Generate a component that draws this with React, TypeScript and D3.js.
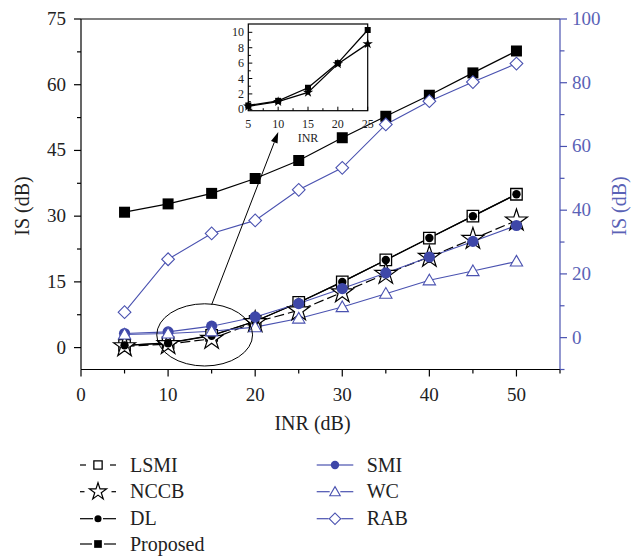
import React from 'react';
import * as d3 from 'd3';

// ---------- data ----------
const inr = [5, 10, 15, 20, 25, 30, 35, 40, 45, 50];
const lsmi = [0.5, 1.1, 2.8, 6.0, 10.3, 15.0, 20.0, 25.0, 30.0, 35.0];
const nccb = [0.3, 0.8, 2.0, 5.8, 8.5, 12.6, 16.8, 20.7, 24.8, 29.0];
const dl = [0.5, 1.0, 2.7, 6.0, 10.3, 15.0, 20.0, 25.0, 30.0, 35.0];
const proposed = [30.9, 32.8, 35.2, 38.6, 42.7, 47.9, 52.8, 57.6, 62.7, 67.7];
const smi = [1.3, 1.8, 3.6, 6.5, 10.7, 15.4, 20.3, 25.3, 30.2, 35.2];
const wc = [1.0, 1.3, 2.0, 3.3, 6.0, 9.6, 13.8, 18.0, 20.9, 23.9];
const rab = [8.0, 24.6, 32.7, 36.8, 46.4, 53.3, 66.9, 74.2, 80.2, 86.0];

const insetInr = [5, 10, 15, 20, 25];
const insetSquare = [0.5, 1.1, 2.8, 6.0, 10.3];
const insetStar = [0.4, 1.0, 2.2, 5.9, 8.5];

const xTicks = [0, 10, 20, 30, 40, 50];
const xMinor = [5, 15, 25, 35, 45, 55];
const leftTicks = [0, 15, 30, 45, 60, 75];
const leftMinor = [7.5, 22.5, 37.5, 52.5, 67.5];
const rightTicks = [0, 20, 40, 60, 80, 100];
const rightMinor = [-10, 10, 30, 50, 70, 90];
const insetXTicks = [5, 10, 15, 20, 25];
const insetXMinor = [7.5, 12.5, 17.5, 22.5];
const insetYTicks = [0, 2, 4, 6, 8, 10];
const insetYMinor = [1, 3, 5, 7, 9];

// annotation (data coords): ellipse around 5..20 region and arrow to inset
const ellipse = { cx: 14.2, cy: 2.9, rx: 5.5, ry: 7.1 };
const arrow = { x1: 15.0, y1: 9.8, x2: 22.65, y2: 49.2 };

const FONT = '"Liberation Serif", "DejaVu Serif", serif';
const BLUE = '#4a52b0';
const BLUE_FILL = '#3e47a8';
const BLUE_TEXT = '#5a62b6';

const W = 639, H = 556;
const L = 81, R = 560, T = 19, B = 369.5;

const x = d3.scaleLinear().domain([0, 55]).range([L, R]);
const yL = d3.scaleLinear().domain([-5, 75]).range([B, T]);
const yR = d3.scaleLinear().domain([-10, 100]).range([B, T]);

// inset
const IL = 248.3, IR = 367.7, IT = 24, IB = 110.7;
const ix = d3.scaleLinear().domain([5, 25]).range([IL, IR]);
const iy = d3.scaleLinear().domain([-0.18, 11.08]).range([IB, IT]);

type Mk = 'square' | 'squareOpen' | 'star' | 'dot' | 'dotBlue' | 'tri' | 'diamond';

function Marker({ kind, cx, cy, scale = 1 }: { kind: Mk; cx: number; cy: number; scale?: number }) {
  const s = scale;
  switch (kind) {
    case 'square':
      return <path transform={`translate(${cx},${cy})`} d={d3.symbol(d3.symbolSquare, 11 * 11 * s * s)()!} fill="#000" />;
    case 'squareOpen':
      return <path transform={`translate(${cx},${cy})`} d={d3.symbol(d3.symbolSquare, 11.5 * 11.5 * s * s)()!} fill="#fff" stroke="#000" strokeWidth={1.3} />;
    case 'star':
      return <path transform={`translate(${cx},${cy})`} d={d3.symbol(d3.symbolStar, (11.5 * 11.5 * s * s) / 0.8908)()!} fill="#fff" stroke="#000" strokeWidth={1.2} strokeLinejoin="miter" />;
    case 'dot':
      return <circle cx={cx} cy={cy} r={4.2 * s} fill="#000" />;
    case 'dotBlue':
      return <circle cx={cx} cy={cy} r={5.6 * s} fill={BLUE_FILL} />;
    case 'tri':
      return <path transform={`translate(${cx},${cy + 1})`} d={d3.symbol(d3.symbolTriangle, 66 * s * s)()!} fill="#fff" stroke={BLUE} strokeWidth={1.1} />;
    case 'diamond':
      return <path transform={`translate(${cx},${cy}) rotate(45)`} d={d3.symbol(d3.symbolSquare, 9 * 9 * s * s)()!} fill="#fff" stroke={BLUE} strokeWidth={1.1} />;
  }
}

interface Series {
  name: string;
  values: number[];
  axis: 'L' | 'R';
  color: string;
  width: number;
  dash?: string;
  marker: Mk;
  legendSeg: number;
  legendScale: number;
}

const series: Series[] = [
  { name: 'LSMI', values: lsmi, axis: 'L', color: '#000', width: 1.2, marker: 'squareOpen', legendSeg: 6, legendScale: 0.72 },
  { name: 'NCCB', values: nccb, axis: 'L', color: '#000', width: 1.2, dash: '10,4', marker: 'star', legendSeg: 4.5, legendScale: 0.78 },
  { name: 'DL', values: dl, axis: 'L', color: '#000', width: 1.2, marker: 'dot', legendSeg: 13, legendScale: 0.85 },
  { name: 'Proposed', values: proposed, axis: 'L', color: '#000', width: 1.2, marker: 'square', legendSeg: 12, legendScale: 0.7 },
  { name: 'SMI', values: smi, axis: 'R', color: BLUE, width: 1.1, marker: 'dotBlue', legendSeg: 15, legendScale: 0.75 },
  { name: 'WC', values: wc, axis: 'R', color: BLUE, width: 1.1, marker: 'tri', legendSeg: 13, legendScale: 0.85 },
  { name: 'RAB', values: rab, axis: 'R', color: BLUE, width: 1.1, marker: 'diamond', legendSeg: 12, legendScale: 0.9 },
];

const legendRows = [465, 491.7, 518.7, 544];

export default function App() {
  const line = (s: Series) =>
    d3
      .line<number>()
      .x((_, i) => x(inr[i]))
      .y((v) => (s.axis === 'L' ? yL(v) : yR(v)))(s.values)!;

  const iline = (vals: number[]) =>
    d3
      .line<number>()
      .x((_, i) => ix(insetInr[i]))
      .y((v) => iy(v))(vals)!;

  // arrow geometry
  const ax1 = x(arrow.x1), ay1 = yL(arrow.y1), ax2 = x(arrow.x2), ay2 = yL(arrow.y2);
  const ang = Math.atan2(ay2 - ay1, ax2 - ax1);
  const hl = 11, hw = 3.5;
  const bx = ax2 - hl * Math.cos(ang), by = ay2 - hl * Math.sin(ang);
  const head = `M${ax2},${ay2}L${bx + hw * Math.sin(ang)},${by - hw * Math.cos(ang)}L${bx - hw * Math.sin(ang)},${by + hw * Math.cos(ang)}Z`;

  return (
    <svg width={W} height={H} style={{ position: 'absolute', left: 0, top: 0, background: '#fff' }} fontFamily={FONT}>
      <rect width={W} height={H} fill="#fff" />

      {/* series lines */}
      {series.map((s) => (
        <path key={s.name + 'l'} d={line(s)} fill="none" stroke={s.color} strokeWidth={s.width} strokeDasharray={s.dash} />
      ))}
      {/* markers */}
      {series.map((s) => (
        <g key={s.name + 'm'}>
          {s.values.map((v, i) => (
            <Marker key={i} kind={s.marker} cx={x(inr[i])} cy={s.axis === 'L' ? yL(v) : yR(v)} />
          ))}
        </g>
      ))}

      {/* ellipse + arrow */}
      <ellipse
        cx={x(ellipse.cx)}
        cy={yL(ellipse.cy)}
        rx={x(ellipse.rx) - x(0)}
        ry={yL(0) - yL(ellipse.ry)}
        fill="none"
        stroke="#000"
        strokeWidth={1}
      />
      <line x1={ax1} y1={ay1} x2={bx} y2={by} stroke="#000" strokeWidth={1} />
      <path d={head} fill="#000" />

      {/* axes */}
      <line x1={L} y1={T} x2={R} y2={T} stroke="#000" strokeWidth={1.2} />
      <line x1={L} y1={B} x2={R} y2={B} stroke="#000" strokeWidth={1.2} />
      <line x1={L} y1={T} x2={L} y2={B} stroke="#000" strokeWidth={1.2} />
      <line x1={R} y1={T} x2={R} y2={B} stroke={BLUE} strokeWidth={1.2} />

      {xTicks.map((t) => (
        <g key={'xt' + t}>
          <line x1={x(t)} x2={x(t)} y1={B} y2={B + 7} stroke="#000" strokeWidth={1.2} />
          <text x={x(t)} y={401} textAnchor="middle" fontSize={19} fill="#222">{t}</text>
        </g>
      ))}
      {xMinor.map((t) => (
        <line key={'xm' + t} x1={x(t)} x2={x(t)} y1={B} y2={B + 4} stroke="#000" strokeWidth={1.2} />
      ))}
      {leftTicks.map((t) => (
        <g key={'lt' + t}>
          <line x1={L - 7} x2={L} y1={yL(t)} y2={yL(t)} stroke="#000" strokeWidth={1.2} />
          <text x={66} y={yL(t) + 6} textAnchor="end" fontSize={19} fill="#222">{t}</text>
        </g>
      ))}
      {leftMinor.map((t) => (
        <line key={'lm' + t} x1={L - 4} x2={L} y1={yL(t)} y2={yL(t)} stroke="#000" strokeWidth={1.2} />
      ))}
      {rightTicks.map((t) => (
        <g key={'rt' + t}>
          <line x1={R} x2={R + 7} y1={yR(t)} y2={yR(t)} stroke={BLUE} strokeWidth={1.2} />
          <text x={572} y={yR(t) + 6} textAnchor="start" fontSize={19} fill={BLUE_TEXT}>{t}</text>
        </g>
      ))}
      {rightMinor.map((t) => (
        <line key={'rm' + t} x1={R} x2={R + 4.5} y1={yR(t)} y2={yR(t)} stroke={BLUE} strokeWidth={1.2} />
      ))}

      {/* axis titles */}
      <text transform={`translate(29,206) rotate(-90)`} textAnchor="middle" fontSize={20} fill="#222">IS (dB)</text>
      <text transform={`translate(626,206) rotate(-90)`} textAnchor="middle" fontSize={20} fill={BLUE_TEXT}>IS (dB)</text>
      <text x={(x(0) + x(55)) / 2 - 8} y={430} textAnchor="middle" fontSize={20} fill="#222">INR (dB)</text>

      {/* inset */}
      <g>
        <rect x={IL} y={IT} width={IR - IL} height={IB - IT} fill="#fff" stroke="#000" strokeWidth={1.2} />
        <path d={iline(insetStar)} fill="none" stroke="#000" strokeWidth={1.3} />
        <path d={iline(insetSquare)} fill="none" stroke="#000" strokeWidth={1.3} />
        {insetStar.map((v, i) => (
          <path key={'is' + i} transform={`translate(${ix(insetInr[i])},${iy(v)})`} d={d3.symbol(d3.symbolStar, 30 / 0.8908)()!} fill="#000" />
        ))}
        {insetSquare.map((v, i) => (
          <path key={'iq' + i} transform={`translate(${ix(insetInr[i])},${iy(v)})`} d={d3.symbol(d3.symbolSquare, 36)()!} fill="#000" />
        ))}
        {insetXTicks.map((t) => (
          <g key={'ixt' + t}>
            <line x1={ix(t)} x2={ix(t)} y1={IB} y2={IB - 4} stroke="#000" strokeWidth={1} />
            <text x={ix(t)} y={128} textAnchor="middle" fontSize={12} fill="#222">{t}</text>
          </g>
        ))}
        {insetXMinor.map((t) => (
          <line key={'ixm' + t} x1={ix(t)} x2={ix(t)} y1={IB} y2={IB - 2.5} stroke="#000" strokeWidth={1} />
        ))}
        {insetYTicks.map((t) => (
          <g key={'iyt' + t}>
            <line x1={IL} x2={IL + 4} y1={iy(t)} y2={iy(t)} stroke="#000" strokeWidth={1} />
            <text x={244} y={iy(t) + 4} textAnchor="end" fontSize={12} fill="#222">{t}</text>
          </g>
        ))}
        {insetYMinor.map((t) => (
          <line key={'iym' + t} x1={IL} x2={IL + 2.5} y1={iy(t)} y2={iy(t)} stroke="#000" strokeWidth={1} />
        ))}
        <text x={308} y={142} textAnchor="middle" fontSize={12} fill="#222">INR</text>
      </g>

      {/* legend */}
      {series.map((s, i) => {
        const col = i < 4 ? 0 : 1;
        const row = i < 4 ? i : i - 4;
        const x0 = col === 0 ? 80 : 316.7;
        const x1 = col === 0 ? 116 : 353.3;
        const tx = col === 0 ? 130 : 366.7;
        const cy = legendRows[row];
        const mid = (x0 + x1) / 2;
        return (
          <g key={'lg' + s.name}>
            <line x1={x0} x2={x0 + s.legendSeg} y1={cy} y2={cy} stroke={s.color} strokeWidth={1.2} />
            <line x1={x1 - s.legendSeg} x2={x1} y1={cy} y2={cy} stroke={s.color} strokeWidth={1.2} />
            <Marker kind={s.marker} cx={mid} cy={cy} scale={s.legendScale} />
            <text x={tx} y={cy + 6.5} fontSize={20} fill="#222">{s.name}</text>
          </g>
        );
      })}
    </svg>
  );
}
